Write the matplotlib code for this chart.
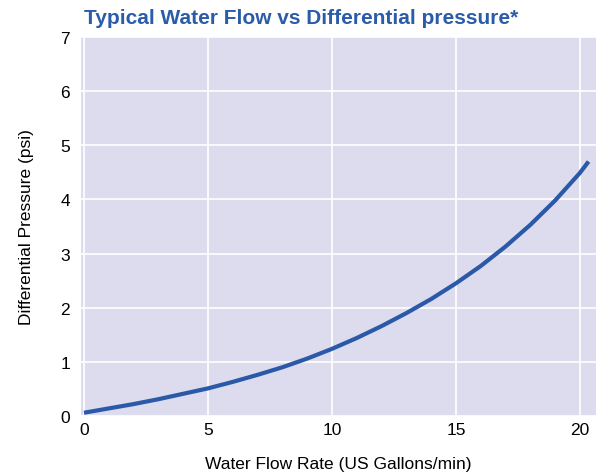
import matplotlib
matplotlib.use('Agg')
import matplotlib.pyplot as plt

flow_gpm = [0, 1, 2, 3, 4, 5, 6, 7, 8, 9, 10, 11, 12, 13, 14, 15, 16, 17, 18, 19, 20, 20.35]
pressure_psi = [0.06, 0.14, 0.22, 0.31, 0.41, 0.51, 0.63, 0.76, 0.90, 1.06, 1.24, 1.44, 1.66,
                1.90, 2.16, 2.45, 2.77, 3.13, 3.53, 3.98, 4.49, 4.70]
x_ticks = [0, 5, 10, 15, 20]
y_ticks = [0, 1, 2, 3, 4, 5, 6, 7]

title = 'Typical Water Flow vs Differential pressure*'
xlabel = 'Water Flow Rate (US Gallons/min)'
ylabel = 'Differential Pressure (psi)'

plt.rcParams['font.family'] = ['Liberation Sans', 'DejaVu Sans']

fig = plt.figure(figsize=(6.01, 4.77), dpi=100)
ax = fig.add_axes([0.1348, 0.1258, 0.8569, 0.7945])
ax.set_facecolor('#dcdcee')
ax.plot(flow_gpm, pressure_psi, color='#2a59a8', lw=3, solid_joinstyle='round',
        solid_capstyle='butt')

ax.set_xlim(-0.12, 20.65)
ax.set_ylim(0, 7)
ax.set_xticks(x_ticks)
ax.set_yticks(y_ticks)
ax.grid(True, color='white', lw=1.2)
ax.set_axisbelow(True)
for s in ax.spines.values():
    s.set_visible(False)
ax.tick_params(length=0, labelsize=12.5, colors='black', pad=4)
ax.tick_params(axis='y', pad=8)

ax.set_xlabel(xlabel, fontsize=12.5, labelpad=14)
ax.set_ylabel(ylabel, fontsize=12.5, labelpad=19)

fig.text(0.14, 0.962, title, fontsize=15, fontweight='bold', color='#2a5caa',
         ha='left', va='center')

fig.savefig('out.png', dpi=100)
